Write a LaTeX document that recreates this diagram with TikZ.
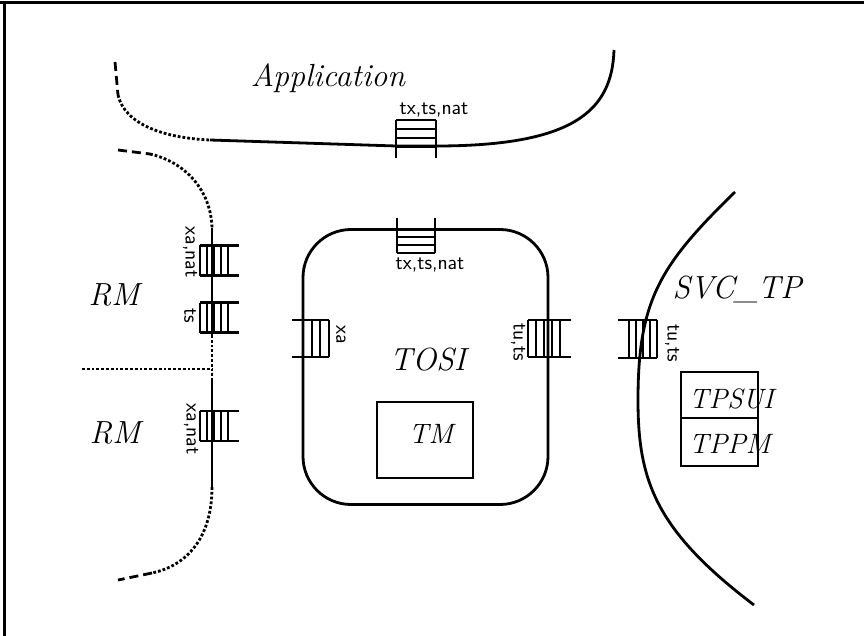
\documentclass[tikz,border=0pt]{standalone}
\usetikzlibrary{positioning}

\tikzset{
    region/.style={font=\fontsize{32}{38}\selectfont\itshape, inner sep=0pt},
    part/.style={font=\fontsize{28}{34}\selectfont\itshape, inner sep=0pt},
    qlabel/.style={font=\fontsize{21}{24}\selectfont\sffamily, inner sep=0pt},
    bound/.style={line width=2.8pt},
    pics/fifo/.style args={#1/#2/#3}{code={
        \draw[line width=2.2pt] (0,-#1) -- (#2*#3+11,-#1) (0,#1) -- (#2*#3+11,#1);
        \foreach \k in {0,...,#2} \draw[line width=2pt] (\k*#3,-#1) -- (\k*#3,#1);
    }}
}

\begin{document}
\begin{tikzpicture}[x=1pt, y=-1pt]
\useasboundingbox (0,0) rectangle (864,636);

% frame
\draw[line width=3pt] (0,3) -- (864,3);
\draw[line width=3pt] (4,3) -- (4,636);

% Application
\node[region, anchor=base] (app) at (328,87) {Application};
\draw[bound, dash pattern=on 9pt off 5pt] (115,62) -- (118,95);
\draw[bound, dotted] (118,95) .. controls (125,125) and (165,138) .. (210,140);
\draw[bound] (210,140) -- (396,146) -- (436,146) .. controls (575,146) and (612,110) .. (614,50);
\pic[rotate=-90] at (416,120) {fifo=20/3/9};
\node[qlabel] (applab) at (434,110) {tx,ts,nat};

% RM side
\node[region, anchor=base] (rmtop) at (114,305) {RM};
\node[region, anchor=base] (rmbot) at (115,443) {RM};
\draw[bound, dash pattern=on 9pt off 5pt] (118,150) -- (150,154);
\draw[bound, dotted] (150,154) .. controls (185,162) and (211,190) .. (212,228);
\draw[bound] (212,228) -- (212,335);
\draw[bound, dotted] (212,335) -- (212,378);
\draw[bound] (212,378) -- (212,487);
\draw[bound, dotted] (212,487) .. controls (212,540) and (185,566) .. (152,573);
\draw[bound, dash pattern=on 9pt off 5pt] (152,573) -- (118,580);
\draw[bound, dotted] (82,369) -- (212,369);
\pic at (200,260.5) {fifo=15/4/7};
\pic at (200,317.5) {fifo=15/4/7};
\pic at (200,426) {fifo=15/4/7};
\node[qlabel, rotate=-90] (rmlab1) at (190,252) {xa,nat};
\node[qlabel, rotate=-90] (rmlab2) at (190,316) {ts};
\node[qlabel, rotate=-90] (rmlab3) at (191,429) {xa,nat};

% TOSI
\node[draw, bound, rounded corners=48pt, minimum width=245pt, minimum height=275pt] (tosi) at (425.5,367) {};
\node[region, anchor=base] (tosilab) at (428,370) {TOSI};
\node[draw, line width=2.2pt, minimum width=96pt, minimum height=76pt] (tm) at (425,440) {};
\node[part, anchor=base] (tmlab) at (431,443) {TM};
\pic[rotate=90] at (416,253) {fifo=19/3/8};
\node[qlabel] (tositop) at (430,265) {tx,ts,nat};
\pic[rotate=180] at (329,338.5) {fifo=18.5/3/8.6};
\node[qlabel, rotate=-90] (xalab) at (341,335) {xa};
\pic at (528,338.5) {fifo=18.5/4/8};
\node[qlabel, rotate=-90] (tulab) at (518,342) {tu,ts};

% SVC_TP
\draw[bound] (735,192) .. controls (660,265) and (638,300) .. (638,400) .. controls (638,480) and (655,530) .. (754,605);
\node[region, anchor=base] (svc) at (737,298) {SVC\_TP};
\pic[rotate=180] at (657,339) {fifo=19/4/7};
\node[qlabel, rotate=-90] (svclab) at (672,343) {tu,ts};
\node[draw, line width=2.2pt, outer sep=0pt, minimum width=77pt, minimum height=46pt] (tpsui) at (719.5,395) {};
\node[draw, line width=2.2pt, outer sep=0pt, minimum width=77pt, minimum height=48pt, below=0pt of tpsui] (tppm) {};
\node[part, anchor=base west] (tpsuilab) at (689,408) {TPSUI};
\node[part, anchor=base west] (tppmlab) at (689,453) {TPPM};

\end{tikzpicture}
\end{document}
